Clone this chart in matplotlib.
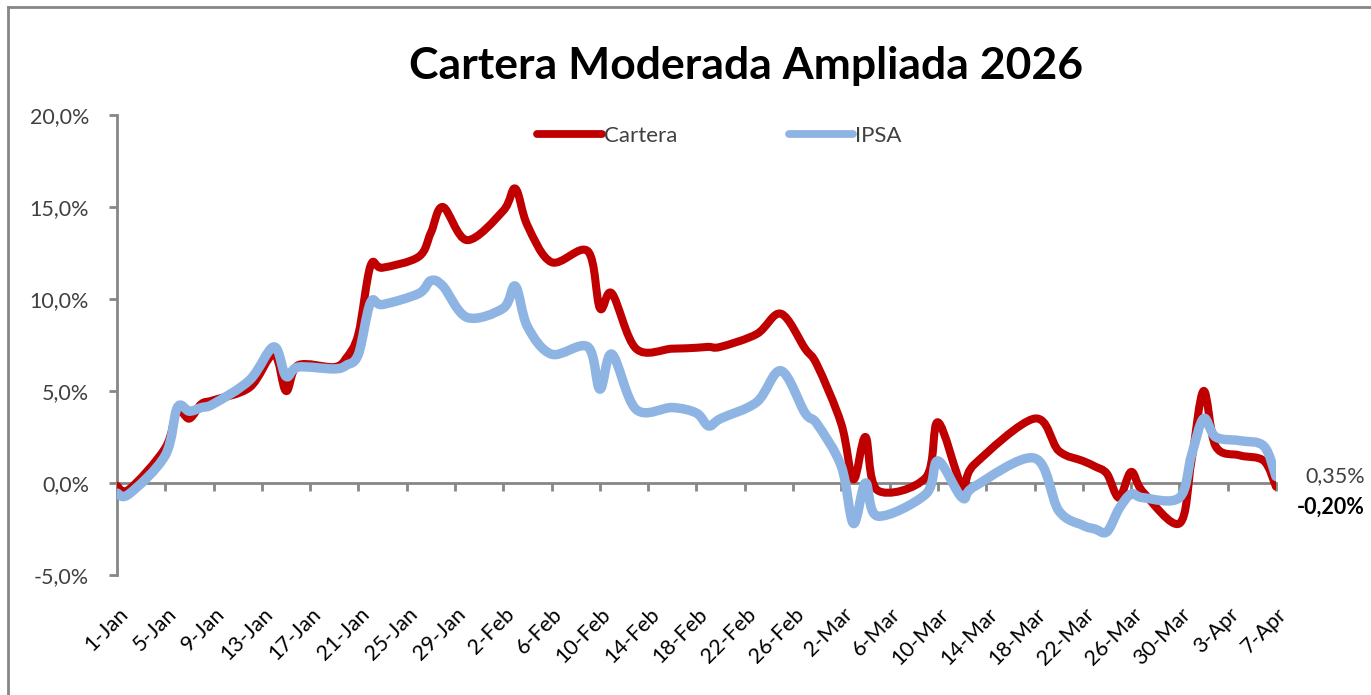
import datetime as dt

import matplotlib

matplotlib.use("Agg")
import matplotlib.pyplot as plt
import matplotlib.dates as mdates
from matplotlib.lines import Line2D
from matplotlib.patches import PathPatch
from matplotlib.path import Path
from matplotlib.transforms import ScaledTranslation

plt.rcParams["font.family"] = ["Lato", "DejaVu Sans"]

# -- data (day offset from 1-Jan-2026, cumulative return in %) ---------------
day_offsets = [0, 1, 4, 5, 6, 7, 8, 11, 13, 14, 15, 18, 19, 20, 21, 22, 25, 26,
               27, 29, 32, 33, 34, 36, 39, 40, 41, 43, 46, 48, 49, 50, 53, 55,
               57, 58, 60, 61, 62, 63, 67, 68, 70, 71, 76, 78, 80, 81, 82, 83,
               84, 85, 88, 89, 90, 91, 93, 95, 96]
cartera = [-0.15, -0.35, 1.9, 3.9, 3.5, 4.3, 4.5, 5.2, 7.0, 5.0, 6.4, 6.3, 6.8,
           8.1, 11.8, 11.7, 12.3, 13.6, 15.0, 13.2, 14.8, 16.0, 14.0, 12.0,
           12.6, 9.5, 10.3, 7.3, 7.3, 7.35, 7.4, 7.4, 8.1, 9.2, 7.3, 6.4, 3.2,
           0.2, 2.5, -0.4, 0.3, 3.3, -0.15, 1.0, 3.5, 1.75, 1.2, 0.9, 0.5,
           -0.8, 0.6, -0.5, -2.2, 1.2, 5.0, 2.0, 1.5, 1.2, -0.2]
ipsa = [-0.55, -0.6, 1.5, 4.1, 3.9, 4.1, 4.3, 5.6, 7.4, 5.8, 6.3, 6.2, 6.4,
        7.0, 9.8, 9.7, 10.3, 11.0, 10.7, 9.0, 9.5, 10.7, 8.5, 7.0, 7.4, 5.1,
        7.0, 4.0, 4.1, 3.8, 3.1, 3.5, 4.4, 6.1, 3.8, 3.2, 0.9, -2.2, 0.0,
        -1.8, -0.6, 1.2, -0.8, -0.2, 1.35, -1.5, -2.3, -2.5, -2.65, -1.4,
        -0.6, -0.8, -0.8, 1.5, 3.5, 2.5, 2.3, 2.0, 0.35]

start = dt.date(2026, 1, 1)
end = dt.date(2026, 4, 7)
dates = [start + dt.timedelta(days=d) for d in day_offsets]
tick_dates = [start + dt.timedelta(days=d) for d in range(0, 97, 4)]
tick_labels = [f"{d.day}-{d.strftime('%b')}" for d in tick_dates]
y_ticks = [-5, 0, 5, 10, 15, 20]

RED = "#C00000"
BLUE = "#8DB4E2"
AXIS = "#868686"
TEXT = "#404040"


def smooth_path(xs, ys):
    """Excel-style smoothed line: Catmull-Rom segments as cubic Beziers."""
    pts = list(zip(xs, ys))
    verts = [pts[0]]
    codes = [Path.MOVETO]
    for i in range(len(pts) - 1):
        p0 = pts[max(i - 1, 0)]
        p1 = pts[i]
        p2 = pts[i + 1]
        p3 = pts[min(i + 2, len(pts) - 1)]
        c1 = (p1[0] + (p2[0] - p0[0]) / 6, p1[1] + (p2[1] - p0[1]) / 6)
        c2 = (p2[0] - (p3[0] - p1[0]) / 6, p2[1] - (p3[1] - p1[1]) / 6)
        verts += [c1, c2, p2]
        codes += [Path.CURVE4] * 3
    return Path(verts, codes)


fig = plt.figure(figsize=(13.71, 6.95), dpi=100)
ax = fig.add_axes([0.0853, 0.1727, 0.8454, 0.6618])

xnum = mdates.date2num(dates)
for values, color, lw, label, z in ((cartera, RED, 5.8, "Cartera", 3),
                                    (ipsa, BLUE, 6.8, "IPSA", 4)):
    ax.add_patch(PathPatch(smooth_path(xnum, values), facecolor="none",
                           edgecolor=color, linewidth=lw, joinstyle="round",
                           capstyle="round", zorder=z))
    # invisible line only so the legend gets a proper handle
    ax.plot([], [], color=color, linewidth=5.6, solid_capstyle="round",
            label=label)

ax.set_xlim(start, end)
ax.set_ylim(-5, 20)
ax.set_yticks(y_ticks)
ax.set_yticklabels([f"{v:.1f}%".replace(".", ",") for v in y_ticks])

for side in ("top", "right"):
    ax.spines[side].set_visible(False)
ax.spines["left"].set_color(AXIS)
ax.spines["left"].set_linewidth(2)
ax.spines["bottom"].set_position(("data", 0))
ax.spines["bottom"].set_color(AXIS)
ax.spines["bottom"].set_linewidth(2)
ax.spines["bottom"].set_zorder(1)

ax.set_xticks(tick_dates)
ax.tick_params(axis="x", direction="out", length=6, width=2, color=AXIS,
               labelbottom=False)
ax.tick_params(axis="y", direction="out", length=6, width=2, color=AXIS,
               labelsize=15.5, labelcolor=TEXT, pad=14)

# date labels sit below the plot area, not on the zero line
sec = ax.secondary_xaxis("bottom")
sec.set_xticks(tick_dates)
sec.set_xticklabels(tick_labels, rotation=45, ha="right", va="center",
                    rotation_mode="anchor", fontsize=15.5, color="black")
sec.tick_params(length=0, pad=26)
sec.spines["bottom"].set_visible(False)
for lbl in sec.get_xticklabels():
    lbl.set_transform(lbl.get_transform() + ScaledTranslation(8 / 100, 0, fig.dpi_scale_trans))

ax.legend(loc="upper center", bbox_to_anchor=(0.52, 1.02), ncol=2,
          frameon=False, fontsize=16, handlelength=2.9, handletextpad=0.1,
          columnspacing=5.0, labelcolor=TEXT)

ax.annotate(f"{ipsa[-1]:.2f}%".replace(".", ","), xy=(dates[-1], ipsa[-1]),
            xytext=(21, 0), textcoords="offset points", va="center",
            ha="left", fontsize=15.5, color=TEXT, annotation_clip=False)
ax.annotate(f"{cartera[-1]:.2f}%".replace(".", ","), xy=(dates[-1], cartera[-1]),
            xytext=(15, -15), textcoords="offset points", va="center",
            ha="left", fontsize=15.5, fontweight="bold", color="black",
            annotation_clip=False)

fig.text(0.5445, 0.905, "Cartera Moderada Ampliada 2026", ha="center",
         va="center", fontsize=32, fontweight="bold")

# chart-area frame (left and top edges visible in the crop)
fig.add_artist(Line2D([8 / 1371, 8 / 1371], [0, 1 - 7 / 695], color=AXIS,
                      linewidth=2, transform=fig.transFigure))
fig.add_artist(Line2D([8 / 1371, 1], [1 - 7 / 695, 1 - 7 / 695], color=AXIS,
                      linewidth=2, transform=fig.transFigure))

fig.savefig("out.png", dpi=100)
